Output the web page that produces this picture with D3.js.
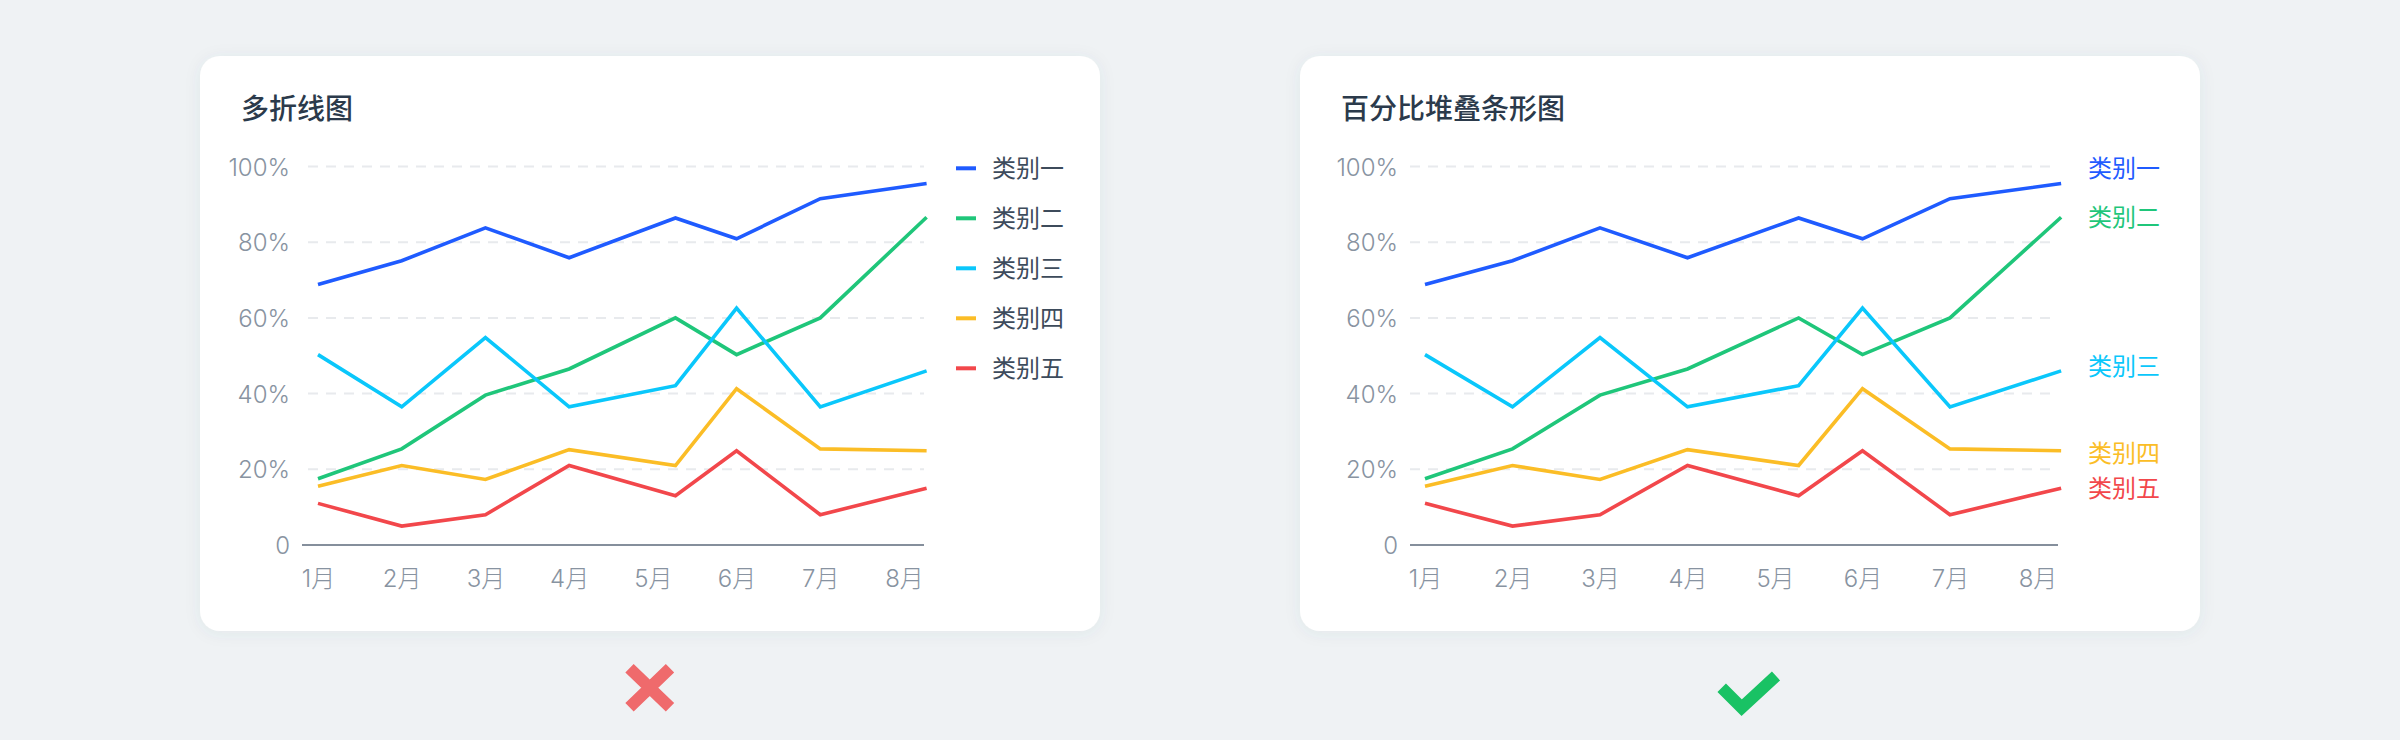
<!DOCTYPE html>
<html>
<head>
<meta charset="utf-8">
<script src="https://cdn.jsdelivr.net/npm/d3@7"></script>
<style>
  html, body { margin: 0; padding: 0; background: #eff2f4; }
  svg { display: block; }
  text { font-family: "Noto Sans CJK SC", "Noto Sans", sans-serif; }
</style>
</head>
<body>
<svg id="chart" width="2400" height="740"></svg>
<script>
// ---------- data ----------
const titles = ["多折线图", "百分比堆叠条形图"];
const months = ["1月", "2月", "3月", "4月", "5月", "6月", "7月", "8月"];
const monthIndex = [1, 2, 3, 4, 5, 6, 7, 8];
// sample position of each point along the month axis (as drawn)
const monthPos = [1, 2, 3, 4, 5.27, 6, 7, 8.27];
const seriesNames = ["类别一", "类别二", "类别三", "类别四", "类别五"];
const series1 = [68.8, 75.1, 83.8, 75.9, 86.4, 80.9, 91.5, 95.5];
const series2 = [17.5, 25.4, 39.6, 46.5, 60.0, 50.3, 60.0, 86.6];
const series3 = [50.3, 36.5, 54.8, 36.5, 42.1, 62.6, 36.5, 46.0];
const series4 = [15.5, 21.0, 17.3, 25.2, 21.0, 41.3, 25.4, 24.9];
const series5 = [11.0, 5.0, 8.0, 21.0, 13.0, 24.9, 8.0, 15.0];
const yTicks = [0, 20, 40, 60, 80, 100];
const yTickLabels = ["0", "20%", "40%", "60%", "80%", "100%"];
// value at which each end label of the second chart sits
const endLabelValues = [99.5, 86.4, 47.1, 24.2, 15.0];

// ---------- styles ----------
const colors = ["#1f5bff", "#1fc67a", "#0ac7fb", "#fbbd26", "#f2474b"];
const allSeries = [series1, series2, series3, series4, series5];

const svg = d3.select("#chart");
const defs = svg.append("defs");
const f = defs.append("filter").attr("id", "sh").attr("x", "-10%").attr("y", "-10%").attr("width", "120%").attr("height", "120%");
f.append("feDropShadow").attr("dx", 0).attr("dy", 2).attr("stdDeviation", 8)
  .attr("flood-color", "#506070").attr("flood-opacity", 0.07);

svg.append("rect").attr("width", 2400).attr("height", 740).attr("fill", "#eff2f4");

const cards = [
  { x: 200, axisX0: 302, gridX0: 308, x1: 924, labelRight: 290, monthL: 318, monthR: 904, legend: true },
  { x: 1300, axisX0: 1410, gridX0: 1410, x1: 2058, labelRight: 1398, monthL: 1425, monthR: 2037.5, legend: false }
];
const cardY = 56, cardW = 900, cardH = 575;
const y = d3.scaleLinear().domain([0, 100]).range([545, 166.5]);

cards.forEach((c, ci) => {
  const g = svg.append("g");
  g.append("rect").attr("x", c.x).attr("y", cardY).attr("width", cardW).attr("height", cardH)
    .attr("rx", 20).attr("fill", "#ffffff").attr("filter", "url(#sh)");

  g.append("text").attr("x", c.x + 41).attr("y", 107).attr("dominant-baseline", "central")
    .attr("font-size", 28).attr("font-weight", 500).attr("fill", "#2b3a4b").text(titles[ci]);

  const x = d3.scaleLinear().domain([1, 8]).range([c.monthL, c.monthR]);

  // grid lines
  g.append("g").selectAll("line").data(yTicks.filter(t => t > 0)).join("line")
    .attr("x1", c.gridX0).attr("x2", c.x1)
    .attr("y1", d => y(d)).attr("y2", d => y(d))
    .attr("stroke", "#e8eaed").attr("stroke-width", 2).attr("stroke-dasharray", "10,8");

  // y axis labels
  const ya = g.append("g").attr("transform", `translate(${c.labelRight},0)`)
    .call(d3.axisLeft(y).tickValues(yTicks).tickSize(0).tickPadding(0)
      .tickFormat((d, i) => yTickLabels[i]));
  ya.select(".domain").remove();
  ya.selectAll("text").attr("dy", null).attr("dominant-baseline", "central")
    .attr("font-size", 24).attr("font-weight", 300).attr("fill", "#8893a1")
    .style("font-family", "Inter, 'Noto Sans CJK SC', sans-serif");

  // x axis line
  g.append("line").attr("x1", c.axisX0).attr("x2", c.x1).attr("y1", y(0)).attr("y2", y(0))
    .attr("stroke", "#858f9c").attr("stroke-width", 2);

  // x axis labels
  const xa = g.append("g").attr("transform", `translate(0,${y(0)})`)
    .call(d3.axisBottom(x).tickValues(monthIndex).tickSize(0).tickPadding(0)
      .tickFormat((d, i) => months[i]));
  xa.select(".domain").remove();
  xa.selectAll("text").attr("dy", null).attr("y", 33.5).attr("dominant-baseline", "central")
    .attr("font-size", 24).attr("font-weight", 300).attr("fill", "#8893a1")
    .style("font-family", "Inter, 'Noto Sans CJK SC', sans-serif");

  // lines
  const line = d3.line().x((d, i) => x(monthPos[i])).y(d => y(d));
  g.append("g").selectAll("path").data(allSeries).join("path")
    .attr("d", d => line(d)).attr("fill", "none")
    .attr("stroke", (d, i) => colors[i]).attr("stroke-width", 3.6)
    .attr("stroke-linejoin", "miter").attr("stroke-linecap", "butt");

  if (c.legend) {
    const lg = g.append("g").selectAll("g").data(seriesNames).join("g")
      .attr("transform", (d, i) => `translate(956,${168.3 + i * 50})`);
    lg.append("rect").attr("x", 0).attr("y", -2).attr("width", 20).attr("height", 4)
      .attr("fill", (d, i) => colors[i]);
    lg.append("text").attr("x", 36).attr("y", -2).attr("dominant-baseline", "central")
      .attr("font-size", 24).attr("fill", "#3d4b5b").text(d => d);
  } else {
    g.append("g").selectAll("text").data(seriesNames).join("text")
      .attr("x", 2088).attr("y", (d, i) => y(endLabelValues[i]))
      .attr("dy", -2)
      .attr("dominant-baseline", "central").attr("font-size", 24)
      .attr("fill", (d, i) => colors[i]).text(d => d);
  }
});

// verdict icons
svg.append("path").attr("d", "M629.5,668.2L670,707.3M670,668.2L629.5,707.3")
  .attr("stroke", "#ef6a6c").attr("stroke-width", 12).attr("fill", "none");
svg.append("path").attr("d", "M1721.7,687.7L1741.7,707.7L1776,676")
  .attr("stroke", "#19c264").attr("stroke-width", 12).attr("fill", "none")
  .attr("stroke-linejoin", "miter");
</script>
</body>
</html>
